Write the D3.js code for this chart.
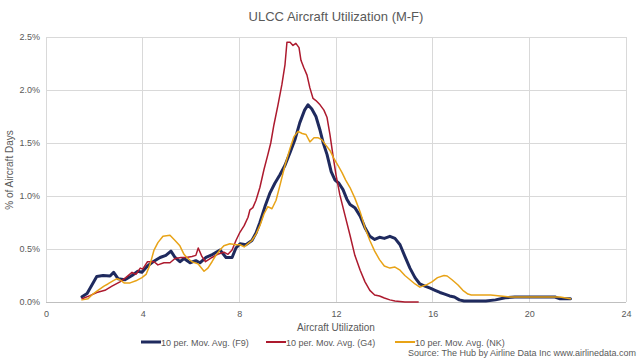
<!DOCTYPE html>
<html><head><meta charset="utf-8">
<script src="https://cdn.jsdelivr.net/npm/d3@7"></script>
<style>body{margin:0;background:#fff;}svg{display:block;font-family:"Liberation Sans",Arial,sans-serif;}</style>
</head><body><svg id="c" width="640" height="359"></svg>
<script>
const seriesNames = ["10 per. Mov. Avg. (F9)", "10 per. Mov. Avg. (G4)", "10 per. Mov. Avg. (NK)"];
const xTicks = [0, 4, 8, 12, 16, 20, 24];
const yTicks = [0, 0.005, 0.01, 0.015, 0.02, 0.025];

const f9 = [[1.49,0.05],[1.7,0.08],[1.9,0.16],[2.1,0.24],[2.36,0.25],[2.65,0.245],[2.8,0.28],[2.98,0.22],[3.27,0.21],[3.56,0.25],[3.8,0.29],[3.97,0.28],[4.2,0.34],[4.43,0.38],[4.72,0.42],[4.96,0.44],[5.17,0.48],[5.34,0.42],[5.54,0.38],[5.71,0.41],[5.96,0.37],[6.2,0.39],[6.37,0.37],[6.62,0.42],[6.9,0.45],[7.2,0.49],[7.45,0.42],[7.7,0.42],[7.86,0.51],[8.03,0.55],[8.27,0.54],[8.52,0.58],[8.69,0.65],[8.85,0.75],[9.06,0.9],[9.27,1.03],[9.47,1.12],[9.68,1.2],[9.89,1.29],[10.1,1.41],[10.3,1.53],[10.5,1.69],[10.7,1.81],[10.84,1.86],[11.0,1.82],[11.17,1.75],[11.34,1.62],[11.46,1.51],[11.63,1.39],[11.8,1.23],[11.96,1.15],[12.12,1.12],[12.29,1.06],[12.45,0.97],[12.58,0.92],[12.78,0.89],[13.0,0.81],[13.2,0.7],[13.4,0.62],[13.6,0.59],[13.8,0.61],[14.0,0.6],[14.23,0.62],[14.44,0.6],[14.65,0.54],[14.85,0.43],[15.06,0.32],[15.27,0.23],[15.47,0.17],[15.68,0.15],[15.9,0.13],[16.1,0.11],[16.3,0.09],[16.5,0.075],[16.7,0.057],[16.9,0.047],[17.1,0.02],[17.3,0.01],[17.75,0.01],[18.2,0.01],[18.6,0.02],[19.0,0.04],[19.4,0.047],[20.0,0.047],[20.6,0.047],[21.06,0.047],[21.27,0.03],[21.7,0.03]];

const g4 = [[1.49,0.03],[1.82,0.06],[2.1,0.09],[2.44,0.11],[2.73,0.15],[3.06,0.19],[3.3,0.23],[3.56,0.28],[3.72,0.26],[3.9,0.32],[4.0,0.31],[4.2,0.38],[4.47,0.38],[4.63,0.35],[4.88,0.37],[5.13,0.37],[5.34,0.41],[5.59,0.42],[5.8,0.42],[6.04,0.43],[6.2,0.44],[6.3,0.51],[6.45,0.43],[6.6,0.38],[6.87,0.42],[7.1,0.45],[7.36,0.47],[7.53,0.45],[7.7,0.49],[7.86,0.58],[8.03,0.66],[8.2,0.72],[8.36,0.8],[8.44,0.87],[8.56,0.89],[8.69,0.96],[8.85,1.08],[9.02,1.25],[9.18,1.39],[9.3,1.5],[9.43,1.67],[9.6,1.86],[9.76,2.05],[9.89,2.24],[9.97,2.45],[10.1,2.45],[10.22,2.42],[10.34,2.44],[10.47,2.4],[10.55,2.28],[10.67,2.21],[10.8,2.14],[10.92,2.02],[11.05,1.92],[11.17,1.9],[11.34,1.86],[11.5,1.81],[11.63,1.74],[11.75,1.58],[11.87,1.39],[12.0,1.2],[12.16,1.01],[12.37,0.82],[12.58,0.63],[12.78,0.44],[13.0,0.3],[13.2,0.19],[13.4,0.11],[13.6,0.066],[13.8,0.057],[14.0,0.038],[14.23,0.02],[14.44,0.01],[14.85,0.0],[15.4,0.0]];

const nk = [[1.49,0.02],[1.74,0.03],[1.94,0.075],[2.15,0.11],[2.4,0.15],[2.56,0.17],[2.77,0.2],[2.94,0.22],[3.06,0.21],[3.23,0.18],[3.48,0.18],[3.72,0.2],[3.97,0.23],[4.14,0.26],[4.3,0.35],[4.47,0.49],[4.63,0.56],[4.84,0.62],[5.13,0.63],[5.34,0.58],[5.54,0.53],[5.71,0.45],[5.83,0.42],[6.04,0.38],[6.29,0.36],[6.54,0.29],[6.7,0.32],[6.87,0.38],[7.03,0.44],[7.2,0.49],[7.36,0.53],[7.61,0.55],[7.86,0.54],[8.03,0.54],[8.2,0.52],[8.36,0.55],[8.52,0.58],[8.69,0.64],[8.85,0.72],[9.02,0.83],[9.18,0.9],[9.35,0.88],[9.52,0.96],[9.68,1.1],[9.89,1.29],[10.1,1.45],[10.26,1.56],[10.43,1.61],[10.6,1.59],[10.76,1.58],[10.92,1.51],[11.09,1.55],[11.25,1.55],[11.42,1.53],[11.58,1.48],[11.75,1.43],[11.9,1.36],[12.08,1.29],[12.25,1.22],[12.4,1.15],[12.58,1.08],[12.78,0.98],[13.0,0.85],[13.2,0.7],[13.4,0.58],[13.6,0.48],[13.8,0.4],[14.0,0.34],[14.23,0.32],[14.44,0.33],[14.65,0.3],[14.85,0.25],[15.06,0.21],[15.27,0.17],[15.47,0.14],[15.72,0.16],[15.97,0.19],[16.2,0.23],[16.47,0.25],[16.6,0.245],[16.8,0.21],[17.05,0.16],[17.25,0.11],[17.46,0.075],[17.6,0.066],[17.96,0.066],[18.4,0.066],[18.8,0.057],[19.2,0.047],[20.0,0.047],[20.85,0.047],[21.27,0.047],[21.7,0.03]];

const colors = ["#1f2a5e", "#ad1a2e", "#e8a317"];
const widths = [3, 1.5, 1.5];
const data = [f9, g4, nk];

const svg = d3.select("#c");
const L = 46, R = 626, T = 37, B = 302;
const x = d3.scaleLinear().domain([0, 24]).range([L, R]);
const y = d3.scaleLinear().domain([0, 0.025]).range([B, T]);

// gridlines
svg.append("g").selectAll("line").data(yTicks.slice(1)).join("line")
  .attr("x1", L).attr("x2", R).attr("y1", d => y(d)).attr("y2", d => y(d))
  .attr("stroke", "#d9d9d9").attr("stroke-width", 1).attr("shape-rendering","crispEdges");
svg.append("g").selectAll("line").data(xTicks.slice(1)).join("line")
  .attr("x1", d => x(d)).attr("x2", d => x(d)).attr("y1", T).attr("y2", B)
  .attr("stroke", "#d9d9d9").attr("stroke-width", 1).attr("shape-rendering","crispEdges");
// left and bottom axis lines
svg.append("line").attr("x1", L).attr("x2", L).attr("y1", T).attr("y2", B)
  .attr("stroke", "#d9d9d9").attr("shape-rendering","crispEdges");
svg.append("line").attr("x1", L).attr("x2", R).attr("y1", B).attr("y2", B)
  .attr("stroke", "#bfbfbf").attr("shape-rendering","crispEdges");

// tick labels via axes
const xAxis = svg.append("g").attr("transform", `translate(0,${B})`)
  .call(d3.axisBottom(x).tickValues(xTicks).tickSize(0).tickPadding(9).tickFormat(d3.format("d")));
const yAxis = svg.append("g").attr("transform", `translate(${L},0)`)
  .call(d3.axisLeft(y).tickValues(yTicks).tickSize(0).tickPadding(6).tickFormat(d3.format(".1%")));
[xAxis, yAxis].forEach(a => {
  a.select(".domain").remove();
  a.selectAll("text").attr("fill", "#595959").style("font-size", "9px")
    .style("font-family", '"Liberation Sans",Arial,sans-serif');
});

// lines
const line = d3.line().x(d => x(d[0])).y(d => y(d[1] / 100)).curve(d3.curveLinear);
data.forEach((s, i) => {
  svg.append("path").datum(s).attr("d", line).attr("fill", "none")
    .attr("stroke", colors[i]).attr("stroke-width", widths[i])
    .attr("stroke-linejoin", "round").attr("stroke-linecap", "round");
});
// redraw F9 on top? keep order: F9 first in reference appears beneath? draw order F9, G4, NK

// title
svg.append("text").attr("x", 336).attr("y", 21).attr("text-anchor", "middle")
  .attr("fill", "#595959").style("font-size", "13px").text("ULCC Aircraft Utilization (M-F)");
// axis titles
svg.append("text").attr("x", 336).attr("y", 331).attr("text-anchor", "middle")
  .attr("fill", "#595959").style("font-size", "10px").text("Aircraft Utilization");
svg.append("text").attr("transform", "translate(13,170) rotate(-90)").attr("text-anchor", "middle")
  .attr("fill", "#595959").style("font-size", "10px").text("% of Aircraft Days");

// legend
const legX = [141, 266, 395];
seriesNames.forEach((n, i) => {
  svg.append("line").attr("x1", legX[i]).attr("x2", legX[i] + 20).attr("y1", 342).attr("y2", 342)
    .attr("stroke", colors[i]).attr("stroke-width", i === 0 ? 3 : 2);
  svg.append("text").attr("x", legX[i] + 20).attr("y", 345.5).attr("fill", "#595959")
    .style("font-size", "9px").text(n);
});
svg.append("text").attr("x", 636).attr("y", 356).attr("text-anchor", "end")
  .attr("fill", "#595959").style("font-size", "9px").text("Source: The Hub by Airline Data Inc www.airlinedata.com");
</script></body></html>
